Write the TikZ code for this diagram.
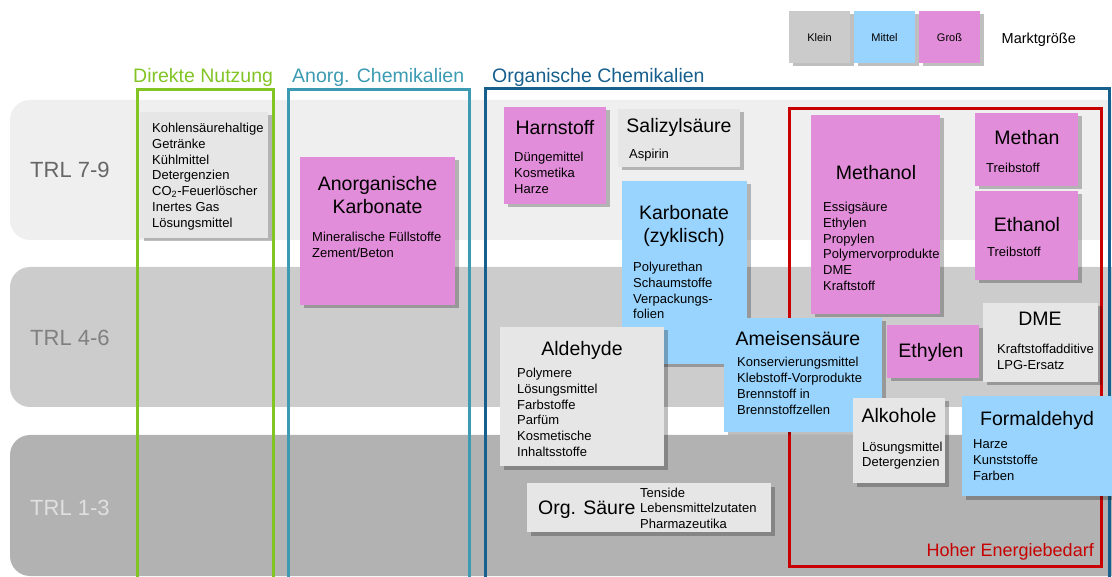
\documentclass[tikz,border=0pt]{standalone}
\usepackage{fontspec}
\setmainfont{Liberation Sans}
\usetikzlibrary{shadows}

\definecolor{bandA}{HTML}{EFEFEF}
\definecolor{bandB}{HTML}{CCCCCC}
\definecolor{bandC}{HTML}{B2B2B2}
\definecolor{boxGrey}{HTML}{E6E6E6}
\definecolor{legGrey}{HTML}{CBCBCB}
\definecolor{boxBlue}{HTML}{99D4FE}
\definecolor{boxPink}{HTML}{E28DD9}
\definecolor{cGreen}{HTML}{82C424}
\definecolor{cTeal}{HTML}{3C9BB2}
\definecolor{cBlue}{HTML}{175F8D}
\definecolor{cRed}{HTML}{C80000}

% one line per entry, baselines 15.8pt apart
\newcommand\itemlist[4]{%
  \foreach \t [count=\i] in {#4}{%
    \node[item] (#1-\i) at ({#2},{#3+(\i-1)*15.8}) {\t};}}

\begin{document}
\begin{tikzpicture}[x=1pt,y=-1pt,
  band/.style={rounded corners=20pt, draw=none},
  trl/.style={anchor=base west, inner sep=0, font=\fontsize{22}{26}\selectfont},
  frame/.style={line width=3pt},
  head/.style={anchor=base west, inner sep=0, font=\fontsize{19.5}{23}\selectfont},
  box/.style={rectangle, inner sep=0, outer sep=0, anchor=north west, draw=none,
    drop shadow={shadow xshift=3.5pt, shadow yshift=-3.5pt, fill=black, opacity=0.25}},
  title/.style={anchor=base, inner sep=0, font=\fontsize{19.5}{23}\selectfont},
  item/.style={anchor=base west, inner sep=0, font=\fontsize{13}{15.8}\selectfont},
  legend/.style={anchor=base, inner sep=0, font=\fontsize{11}{13}\selectfont}]

\useasboundingbox (0,0) rectangle (1112,577);

% TRL bands
\fill[bandA, band] (10,100) rectangle (1150,240);
\fill[bandB, band] (10,267) rectangle (1150,407);
\fill[bandC, band] (10,435) rectangle (1150,576);
\node[trl, text=black!60] (trl79) at (30,178) {TRL 7-9};
\node[trl, text=black!50] (trl46) at (30,346) {TRL 4-6};
\node[trl, text=black!12] (trl13) at (30,515) {TRL 1-3};

% category frames
\draw[frame, cGreen] (137.5,600) |- (273,89.5) -- (273,600);
\draw[frame, cTeal]  (288,600) |- (469.5,89.5) -- (469.5,600);
\draw[frame, cBlue]  (485.5,600) |- (1109.5,88.7) -- (1109.5,600);
\draw[frame, cRed]   (789.8,108.8) rectangle (1101.3,566.2);
\node[head, text=cGreen] (hdirekt) at (133,83) {Direkte Nutzung};
\node[head, text=cTeal]  (hanorg)  at (292,83) {Anorg. Chemikalien};
\node[head, text=cBlue]  (horg)    at (492,83) {Organische Chemikalien};
\node[anchor=base east, inner sep=0, text=cRed, font=\fontsize{18}{21}\selectfont]
  (hener) at (1094,556) {Hoher Energiebedarf};

% legend
\node[box, fill=legGrey, minimum width=61pt, minimum height=52pt] (lklein) at (789,11) {};
\node[box, fill=boxBlue, minimum width=61pt, minimum height=52pt] (lmittel) at (854,11) {};
\node[box, fill=boxPink, minimum width=61pt, minimum height=52pt] (lgross) at (919,11) {};
\node[legend] (tklein) at (819.5,41.5) {Klein};
\node[legend] (tmittel) at (884.5,41.5) {Mittel};
\node[legend] (tgross) at (949.5,41.5) {Groß};
\node[anchor=base west, inner sep=0, font=\fontsize{14.5}{17}\selectfont]
  (tmarkt) at (1001.5,43.3) {Marktgröße};

% Direkte Nutzung
\node[box, fill=boxGrey, minimum width=128pt, minimum height=126pt] (direkt) at (140,112) {};
\itemlist{direkt}{152}{132.5}{Kohlensäurehaltige,Getränke,Kühlmittel,Detergenzien,
  {CO\textsubscript{2}-Feuerlöscher},Inertes Gas,Lösungsmittel}

% Anorganische Chemikalien
\node[box, fill=boxPink, minimum width=155pt, minimum height=148pt] (anorg) at (300,157) {};
\node[title] (anorg-t1) at (377.5,191) {Anorganische};
\node[title] (anorg-t2) at (377.5,214) {Karbonate};
\itemlist{anorg}{312}{241.5}{Mineralische Füllstoffe,{Zement/Beton}}

% Organische Chemikalien
\node[box, fill=boxPink, minimum width=102pt, minimum height=97pt] (harn) at (504,107) {};
\node[title] (harn-t) at (555,135) {Harnstoff};
\itemlist{harn}{514}{161.5}{Düngemittel,Kosmetika,Harze}

\node[box, fill=boxGrey, minimum width=122pt, minimum height=58pt] (saliz) at (618,109) {};
\node[title] (saliz-t) at (679,133) {Salizylsäure};
\itemlist{saliz}{629}{158.5}{Aspirin}

\node[box, fill=boxBlue, minimum width=125pt, minimum height=183pt] (karb) at (622,181) {};
\node[title] (karb-t1) at (684,220) {Karbonate};
\node[title] (karb-t2) at (684,243) {(zyklisch)};
\itemlist{karb}{633}{271.5}{Polyurethan,Schaumstoffe,Verpackungs-,folien}

\node[box, fill=boxGrey, minimum width=164pt, minimum height=139pt] (ald) at (500,327) {};
\node[title] (ald-t) at (582,356) {Aldehyde};
\itemlist{ald}{517}{377.5}{Polymere,Lösungsmittel,Farbstoffe,Parfüm,Kosmetische,Inhaltsstoffe}

\node[box, fill=boxBlue, minimum width=158pt, minimum height=114pt] (ameis) at (724,318) {};
\node[title] (ameis-t) at (798,346) {Ameisensäure};
\itemlist{ameis}{737}{367}{Konservierungsmittel,Klebstoff-Vorprodukte,Brennstoff in,Brennstoffzellen}

\node[box, fill=boxGrey, minimum width=244pt, minimum height=49pt] (orgs) at (527,483) {};
\node[title, anchor=base west] (orgs-t) at (538,514) {Org. Säure};
\itemlist{orgs}{640}{497}{Tenside,Lebensmittelzutaten,Pharmazeutika}

% high energy demand
\node[box, fill=boxPink, minimum width=129pt, minimum height=199pt] (meth) at (811,115) {};
\node[title] (meth-t) at (876,180) {Methanol};
\itemlist{meth}{823}{211.5}{Essigsäure,Ethylen,Propylen,Polymervorprodukte,DME,Kraftstoff}

\node[box, fill=boxPink, minimum width=103pt, minimum height=73pt] (methan) at (975,113) {};
\node[title] (methan-t) at (1027,145) {Methan};
\itemlist{methan}{986}{172.5}{Treibstoff}

\node[box, fill=boxPink, minimum width=103pt, minimum height=89pt] (ethanol) at (975,191) {};
\node[title] (ethanol-t) at (1027,232) {Ethanol};
\itemlist{ethanol}{987}{256.5}{Treibstoff}

\node[box, fill=boxPink, minimum width=92pt, minimum height=53pt] (ethylen) at (887,325) {};
\node[title] (ethylen-t) at (931,358) {Ethylen};

\node[box, fill=boxGrey, minimum width=115pt, minimum height=79pt] (dme) at (983,303) {};
\node[title] (dme-t) at (1040,326) {DME};
\itemlist{dme}{997}{353.5}{Kraftstoffadditive,LPG-Ersatz}

\node[box, fill=boxGrey, minimum width=92pt, minimum height=85pt] (alk) at (853,398) {};
\node[title] (alk-t) at (899,423) {Alkohole};
\itemlist{alk}{862}{451}{Lösungsmittel,Detergenzien}

\node[box, fill=boxBlue, minimum width=150pt, minimum height=100pt] (form) at (962,396) {};
\node[title] (form-t) at (1037,426) {Formaldehyd};
\itemlist{form}{973}{449}{Harze,Kunststoffe,Farben}

\end{tikzpicture}
\end{document}
